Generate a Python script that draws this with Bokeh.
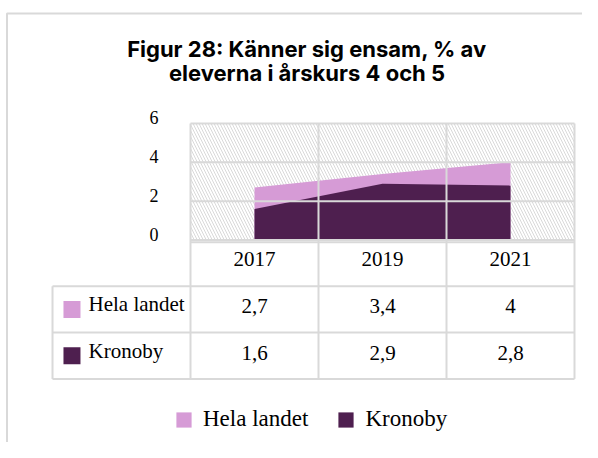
from bokeh.plotting import figure
from bokeh.models import Range1d, Legend, LegendItem
from bokeh.embed import file_html
from bokeh.resources import INLINE
from bokeh.core.properties import value
import numpy as np

# ---------------- data ----------------
title_lines = ["Figur 28: Känner sig ensam, % av", "eleverna i årskurs 4 och 5"]
years = ["2017", "2019", "2021"]
series_names = ["Hela landet", "Kronoby"]
hela_landet = [2.7, 3.4, 4.0]
kronoby = [1.6, 2.9, 2.8]
y_ticks = [0, 2, 4, 6]

# ---------------- style ----------------
colors = ["#D69BD6", "#4E1F4F"]
GRID = "#D9D9D9"
SERIF = "Liberation Serif"
SANS = "Inter"
W, H = 582, 442


def fmt(v):
    return f"{v:g}".replace(".", ",")


n = len(years)
ymax = y_ticks[-1]
ROW = 2.384          # table row height in y units
LEFT = -1.078        # left edge of the table's label column (x units)
XR = (-1.4844, 3.0625)

p = figure(width=W, height=H, x_range=Range1d(*XR),
           y_range=Range1d(-10.427, 12.333), output_backend="svg",
           toolbar_location=None, x_axis_location=None, y_axis_location=None,
           min_border=0)
p.outline_line_color = None
p.xgrid.visible = False
p.ygrid.visible = False
p.background_fill_color = "white"
p.border_fill_color = "white"

# chart box border (top / left)
p.line(x=[XR[1] + 0.05, -1.4336, -1.4336], y=[11.67, 11.67, -10.5],
       line_color=GRID, line_width=2)

# hatched plot area
p.quad(left=0, right=n, bottom=0, top=ymax, fill_color="white", line_color=None,
       hatch_pattern="\\", hatch_color=GRID, hatch_scale=6, hatch_weight=1)

# areas (not stacked)
xc = np.arange(n) + 0.5
p.varea(x=xc, y1=0, y2=hela_landet, fill_color=colors[0])
p.varea(x=xc, y1=0, y2=kronoby, fill_color=colors[1])

# gridlines of the plot area
p.segment(x0=[0] * len(y_ticks), x1=[n] * len(y_ticks), y0=y_ticks, y1=y_ticks,
          line_color=GRID, line_width=2)
p.segment(x0=list(range(n + 1)), x1=list(range(n + 1)), y0=[0] * (n + 1),
          y1=[ymax] * (n + 1), line_color=GRID, line_width=2)

# y tick labels
p.text(x=[-0.25] * len(y_ticks), y=y_ticks, text=[str(t) for t in y_ticks],
       text_font=value(SERIF), text_font_size="18px", text_align="right",
       text_baseline="middle", text_color="#000000", y_offset=-6)

# title
p.text(x=[0.91, 0.91], y=[9.861, 8.625], text=title_lines, text_font=value(SANS),
       text_font_style="bold", text_font_size="22px", text_align="center",
       text_baseline="middle", text_color="#000000")

# ---------------- data table ----------------
nrows = len(series_names) + 1
row_edges = [-ROW * r for r in range(nrows + 1)]
hx0 = [0.0] + [LEFT] * nrows
hx1 = [float(n)] * (nrows + 1)
hy = [-0.12] + row_edges[1:]
p.segment(x0=hx0, y0=hy, x1=hx1, y1=hy, line_color=GRID, line_width=2)
vx = [LEFT] + [float(c) for c in range(n + 1)]
vy0 = [row_edges[1]] + [0.0] * (n + 1)
vy1 = [row_edges[-1]] * (n + 2)
p.segment(x0=vx, y0=vy0, x1=vx, y1=vy1, line_color=GRID, line_width=2)

p.text(x=xc, y=[-ROW * 0.5] * n, text=years, text_font=value(SERIF),
       text_font_size="21px", text_align="center", text_baseline="middle",
       text_color="#000000", y_offset=-4)

items = []
for r, (name, vals, col) in enumerate(zip(series_names, [hela_landet, kronoby], colors)):
    yrow = -ROW * (r + 1.5)
    p.text(x=xc, y=[yrow] * n, text=[fmt(v) for v in vals], text_font=value(SERIF),
           text_font_size="21px", text_align="center", text_baseline="middle",
           text_color="#000000", y_offset=-3)
    p.text(x=[-0.797], y=[yrow], text=[name], text_font=value(SERIF),
           text_font_size="21px", text_align="left", text_baseline="middle",
           text_color="#000000", y_offset=-5)
    sq = p.rect(x=[-0.926], y=[yrow], width=17, height=17, width_units="screen",
                height_units="screen", fill_color=col, line_color=None)
    items.append(LegendItem(label=name, renderers=[sq]))

legend = Legend(items=items, orientation="horizontal", location=(174, 10),
                glyph_width=19, glyph_height=19, label_standoff=10, spacing=28,
                padding=0, margin=0, border_line_alpha=0, background_fill_alpha=0,
                label_text_font=SERIF, label_text_font_size="23px",
                label_text_color="#000000")
p.add_layout(legend)

open("out.html", "w").write(file_html(p, INLINE))
